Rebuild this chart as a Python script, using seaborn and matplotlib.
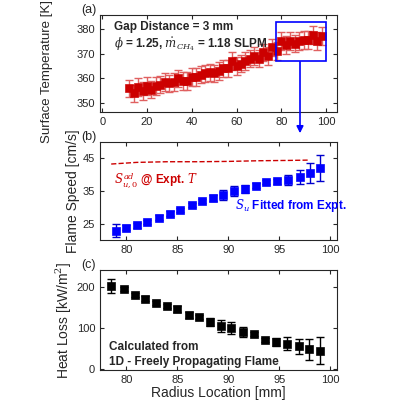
import matplotlib
matplotlib.use("Agg")
import matplotlib.pyplot as plt
import seaborn as sns
import numpy as np
from matplotlib.patches import Rectangle

sns.set_style("ticks")
plt.rcParams['font.family'] = ['Liberation Sans', 'DejaVu Sans']
plt.rcParams['mathtext.fontset'] = 'dejavuserif'

ax_x = list(range(12, 99, 2))
ax_T = [356,354,356.5,355,357,355.5,357,357.5,358.5,358,358.5,360,359,359,360.5,360.5,361.5,362,362.5,362,
        363,364,364,367,365,366,367,368,369,368,370.5,369,372.5,371,375,373.5,375,374,375,375.5,375.5,377.5,375,377]
ax_err = 3.5

b_x = [79,80,81,82,83.2,84.3,85.3,86.4,87.4,88.5,89.5,90.6,91.6,92.7,93.7,94.8,95.9,97,98,99]
b_S = [23,24,24.7,25.7,27,28.2,29.3,30.8,32,33,33.8,35,35.7,36.7,37.8,38,38.5,39.3,40.5,42]
b_err = [2,0.7,0.7,0.7,0.7,0.7,0.7,0.7,0.7,1,1.5,1.5,1.2,0.7,0.7,0.8,1.5,2.2,3,4]
ad_x = [78.5,81,84,87,90,93,96,98]
ad_S = [43.3,43.8,44.0,44.0,44.1,44.3,44.4,44.5]

c_x = [78.5,79.8,80.8,81.8,82.9,84,85,86.1,87.1,88.2,89.3,90.3,91.4,92.5,93.6,94.7,95.8,96.9,97.9,99]
c_Q = [202,195,180,171,161,152,146,131,127,115,104,99,91,86,71,66,62,55,48,45]
c_err = [17,5,5,5,5,5,7,7,5,10,15,15,12,5,5,10,15,18,25,33]

fig = plt.figure(figsize=(4, 4), dpi=100)
axa = fig.add_axes([0.25, 0.72, 0.593, 0.2425])
axb = fig.add_axes([0.25, 0.40, 0.593, 0.245])
axc = fig.add_axes([0.25, 0.075, 0.593, 0.25])

red = '#CC0000'
axa.errorbar(ax_x, ax_T, yerr=ax_err, fmt='none', ecolor='#E06060', elinewidth=1, capsize=3)
sns.scatterplot(x=ax_x, y=ax_T, ax=axa, marker='s', color=red, s=30, edgecolor=red, zorder=3)
axa.set_xlim(-1, 105); axa.set_ylim(346.5, 385.5)
axa.set_xticks([0,20,40,60,80,100]); axa.set_yticks([350,360,370,380])
axa.set_ylabel('Surface Temperature [K]', fontsize=9.5, labelpad=2)
axa.yaxis.set_label_coords(-0.2, 0.42)
axa.text(0.06, 0.85, 'Gap Distance = 3 mm', transform=axa.transAxes, fontsize=8.5, fontweight='bold')
axa.text(0.06, 0.67, r'$\phi$ = 1.25, $\dot{m}_{CH_4}$ = 1.18 SLPM', transform=axa.transAxes, fontsize=8.5, fontweight='bold')
axa.add_patch(Rectangle((77.8, 367.2), 22.2, 15.6, fill=False, edgecolor='#0000FF', lw=1.2, zorder=4))
fig.add_artist(matplotlib.patches.FancyArrowPatch((300/400, 1-59/400), (300/400, 1-136/400),
               transform=fig.transFigure, arrowstyle='-|>', mutation_scale=10, color='#0000FF', lw=1.2))

axb.plot(ad_x, ad_S, ls='--', color=red, lw=1)
axb.errorbar(b_x, b_S, yerr=b_err, fmt='none', ecolor='#0000CC', elinewidth=1, capsize=3)
sns.scatterplot(x=b_x, y=b_S, ax=axb, marker='s', color='#0000FF', s=35, edgecolor='#0000FF', zorder=3)
axb.set_xlim(77.4, 100.7); axb.set_ylim(20.2, 50)
axb.set_xticks([80,85,90,95,100]); axb.set_yticks([25,35,45])
axb.set_ylabel('Flame Speed [cm/s]', fontsize=10, labelpad=2)
axb.text(0.06, 0.58, r'$S_{u,0}^{ad}$ @ Expt. $T$', transform=axb.transAxes, fontsize=8.5, fontweight='bold', color=red)
axb.text(0.57, 0.32, r'$S_u$ Fitted from Expt.', transform=axb.transAxes, fontsize=8.5, fontweight='bold', color='#0000FF')

axc.errorbar(c_x, c_Q, yerr=c_err, fmt='none', ecolor='black', elinewidth=1, capsize=3)
sns.scatterplot(x=c_x, y=c_Q, ax=axc, marker='s', color='black', s=35, edgecolor='black', zorder=3)
axc.set_xlim(77.4, 100.7); axc.set_ylim(-2, 240)
axc.set_xticks([80,85,90,95,100]); axc.set_yticks([0,100,200])
axc.set_ylabel('Heat Loss [kW/m$^2$]', fontsize=10, labelpad=2)
axc.set_xlabel('Radius Location [mm]', fontsize=10, labelpad=1)
axc.text(0.04, 0.2, 'Calculated from', transform=axc.transAxes, fontsize=8.5, fontweight='bold')
axc.text(0.04, 0.05, '1D - Freely Propagating Flame', transform=axc.transAxes, fontsize=8.5, fontweight='bold')

for ax, lab in [(axa, '(a)'), (axb, '(b)'), (axc, '(c)')]:
    ax.tick_params(direction='in', labelsize=8, length=3, top=True, right=True, labeltop=False, labelright=False)
    ax.text(-0.08, 1.02, lab, transform=ax.transAxes, fontsize=9)

fig.savefig('out.png', dpi=100)
